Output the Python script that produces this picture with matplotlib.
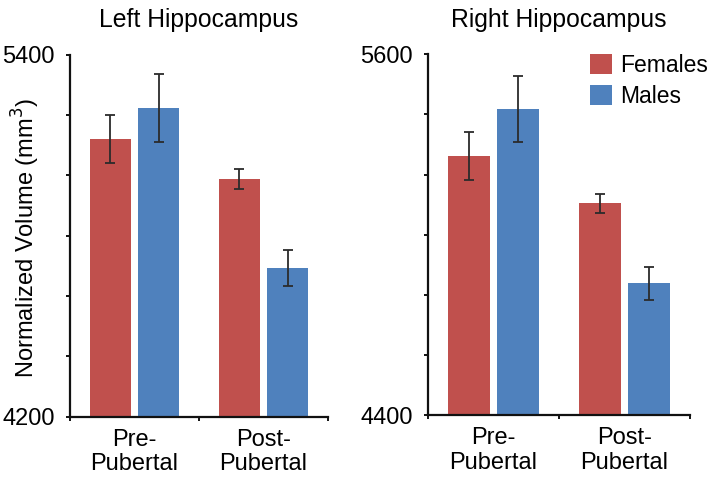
import matplotlib
matplotlib.use("Agg")
import matplotlib.pyplot as plt
from matplotlib.patches import Patch

plt.rcParams['font.family'] = ['Liberation Sans', 'DejaVu Sans']

groups = ["Pre-\nPubertal", "Post-\nPubertal"]
series = ["Females", "Males"]
colors = ["#C0504D", "#4F81BD"]

left_means = {"Females": [5120, 4988], "Males": [5222, 4692]}
left_err = {"Females": [81, 32], "Males": [113, 59]}
right_means = {"Females": [5263, 5104], "Males": [5418, 4838]}
right_err = {"Females": [80, 31], "Males": [111, 56]}

left_ylim = (4200, 5400)
right_ylim = (4400, 5600)

W, H = 710, 479
fig = plt.figure(figsize=(W / 100, H / 100), dpi=100)


def px_axes(x0, x1, ytop, ybot):
    return fig.add_axes([x0 / W, 1 - ybot / H, (x1 - x0) / W, (ybot - ytop) / H])


def draw_panel(ax, means, errs, ylim, title):
    width = 0.32
    offsets = [-0.187, 0.187]
    centers = [0.5, 1.5]
    for s, off, c in zip(series, offsets, colors):
        xs = [g + off for g in centers]
        ax.bar(xs, means[s], width=width, color=c, edgecolor="none", zorder=2)
        ax.errorbar(xs, means[s], yerr=errs[s], fmt="none", ecolor="#2b2b2b",
                    elinewidth=1.3, capsize=3.5, capthick=1.3, zorder=3)
    ax.set_xlim(0, 2)
    ax.set_ylim(*ylim)
    ax.set_yticks(range(ylim[0], ylim[1] + 1, 200))
    ax.set_yticklabels([str(ylim[0])] + [""] * 5 + [str(ylim[1])])
    ax.set_xticks([0, 1, 2])
    ax.set_xticklabels([])
    ax.set_xticks(centers, minor=True)
    ax.set_xticklabels(groups, minor=True, fontsize=17, linespacing=1.12)
    ax.tick_params(axis="x", which="minor", length=0, pad=9)
    ax.tick_params(axis="x", which="major", length=3, width=1.3, direction="out")
    ax.tick_params(axis="y", length=3, width=1.3, labelsize=17, pad=8)
    for sp in ("top", "right"):
        ax.spines[sp].set_visible(False)
    for sp in ("left", "bottom"):
        ax.spines[sp].set_linewidth(1.6)
        ax.spines[sp].set_color("#111111")
    ax.set_title(title, fontsize=17.8, pad=20)


ax1 = px_axes(70, 328, 54.5, 416.7)
ax2 = px_axes(428, 690, 54.3, 415)
draw_panel(ax1, left_means, left_err, left_ylim, "Left Hippocampus")
draw_panel(ax2, right_means, right_err, right_ylim, "Right Hippocampus")

fig.text(26 / W, 1 - 238 / H, "Normalized Volume (mm$^3$)", rotation=90,
         ha="center", va="center", fontsize=17)

handles = [Patch(facecolor=c, edgecolor="none", label=s) for s, c in zip(series, colors)]
fig.legend(handles=handles, loc="upper left", bbox_to_anchor=(590 / W, 1 - 54 / H),
           frameon=False, fontsize=16.5, handlelength=0.95, handleheight=0.95,
           handletextpad=0.35, labelspacing=0.33, borderpad=0, borderaxespad=0)

fig.savefig("out.png", dpi=100)
